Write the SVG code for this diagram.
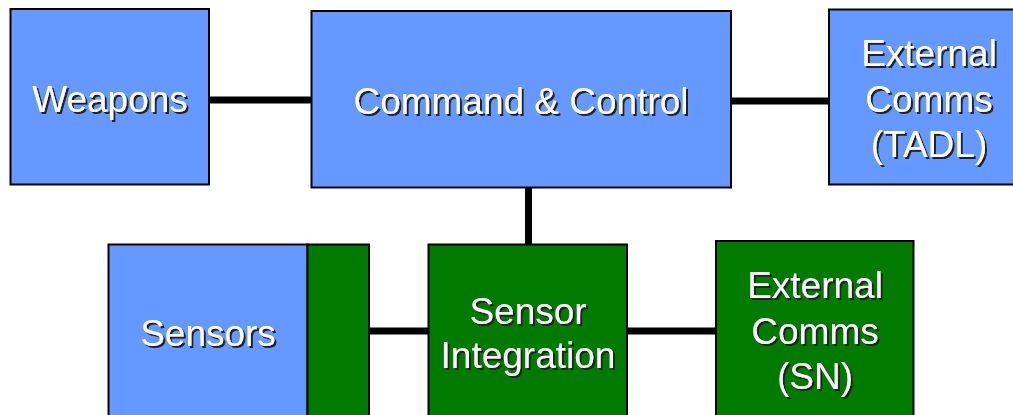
<svg xmlns="http://www.w3.org/2000/svg" width="1013" height="415" viewBox="0 0 1013 415">
  <style>
    .box { stroke: #000; stroke-width: 2; }
    .blue { fill: #6699FF; }
    .green { fill: #007A00; }
    .wire { stroke: #000; stroke-width: 7; fill: none; }
    .label { font-family: "Liberation Sans", Arial, sans-serif; font-size: 37px; text-anchor: middle; }
    .fg { fill: #fff; }
  </style>
  <defs>
    <!-- White label with a small dark drop shadow -->
    <filter id="drop" x="-5%" y="-20%" width="115%" height="150%">
      <feOffset in="SourceAlpha" dx="2" dy="2" result="off"/>
      <feFlood flood-color="#222" result="c"/>
      <feComposite in="c" in2="off" operator="in" result="sh"/>
      <feMerge><feMergeNode in="sh"/><feMergeNode in="SourceGraphic"/></feMerge>
    </filter>
  </defs>

  <!-- Connectors -->
  <g id="connectors">
    <line class="wire" x1="209" y1="100" x2="311" y2="100"/>
    <line class="wire" x1="731" y1="101" x2="829" y2="101"/>
    <line class="wire" x1="528.5" y1="188" x2="528.5" y2="244"/>
    <line class="wire" x1="369" y1="331" x2="428" y2="331"/>
    <line class="wire" x1="627" y1="331" x2="716" y2="331"/>
  </g>

  <g id="weapons">
    <rect class="box blue" x="10.5" y="9" width="198.5" height="175.5"/>
    <text class="label fg" filter="url(#drop)" x="110" y="112">Weapons</text>
  </g>

  <g id="command-control">
    <rect class="box blue" x="311.5" y="11" width="419.5" height="176.5"/>
    <text class="label fg" filter="url(#drop)" x="521" y="114">Command &amp; Control</text>
  </g>

  <g id="external-comms-tadl">
    <rect class="box blue" x="829" y="9.5" width="200" height="175"/>
    <text class="label fg" filter="url(#drop)" x="929" y="66">External</text>
    <text class="label fg" filter="url(#drop)" x="929" y="112">Comms</text>
    <text class="label fg" filter="url(#drop)" x="929" y="157">(TADL)</text>
  </g>

  <g id="sensors">
    <rect class="box blue" x="108.5" y="244.5" width="199" height="190"/>
    <text class="label fg" filter="url(#drop)" x="208" y="346">Sensors</text>
  </g>

  <g id="sensor-interface">
    <rect class="box green" x="307.5" y="244.5" width="61.5" height="190"/>
  </g>

  <g id="sensor-integration">
    <rect class="box green" x="428.5" y="244.5" width="198.5" height="190"/>
    <text class="label fg" filter="url(#drop)" x="528" y="324">Sensor</text>
    <text class="label fg" filter="url(#drop)" x="528" y="368">Integration</text>
  </g>

  <g id="external-comms-sn">
    <rect class="box green" x="716" y="241" width="197.5" height="194"/>
    <text class="label fg" filter="url(#drop)" x="815" y="298">External</text>
    <text class="label fg" filter="url(#drop)" x="815" y="344">Comms</text>
    <text class="label fg" filter="url(#drop)" x="815" y="389">(SN)</text>
  </g>
</svg>
